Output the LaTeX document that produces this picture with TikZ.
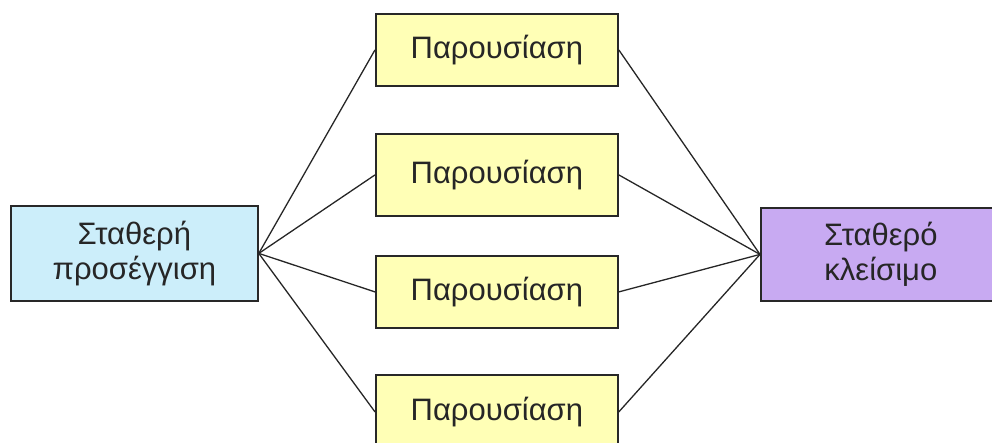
\documentclass[tikz,border=0pt]{standalone}
\usepackage{fontspec}
\setmainfont{Liberation Sans}
\definecolor{startfill}{RGB}{204,238,250}
\definecolor{itemfill}{RGB}{255,255,182}
\definecolor{endfill}{RGB}{200,170,242}
\definecolor{edgegray}{RGB}{40,40,40}
\begin{document}
\begin{tikzpicture}[x=1pt,y=-1pt,
  box/.style={draw=edgegray,line width=1.8pt,inner sep=0pt,anchor=north west,
    font=\fontsize{31}{35}\selectfont,align=center,text=black!85},
  link/.style={draw=black!85,line width=1.3pt}]
\useasboundingbox (0,0) rectangle (992,442);
\clip (0,0) rectangle (992,442);
\node[box,fill=startfill,minimum width=247pt,minimum height=95pt] (start) at (10,205) {Σταθερή\\προσέγγιση};
\node[box,fill=endfill,minimum width=240pt,minimum height=93pt] (finish) at (760,207) {Σταθερό\\κλείσιμο};
\node[box,fill=itemfill,minimum width=242pt,minimum height=72pt] (p1) at (375,13) {Παρουσίαση};
\node[box,fill=itemfill,minimum width=242pt,minimum height=82pt] (p2) at (375,133) {Παρουσίαση};
\node[box,fill=itemfill,minimum width=242pt,minimum height=72pt] (p3) at (375,255) {Παρουσίαση};
\node[box,fill=itemfill,minimum width=242pt,minimum height=74pt] (p4) at (375,374) {Παρουσίαση};
\foreach \p in {p1,p2,p3,p4}{
  \draw[link] (start.east) -- (\p.west);
  \draw[link] (\p.east) -- (finish.west);
}
\end{tikzpicture}
\end{document}
